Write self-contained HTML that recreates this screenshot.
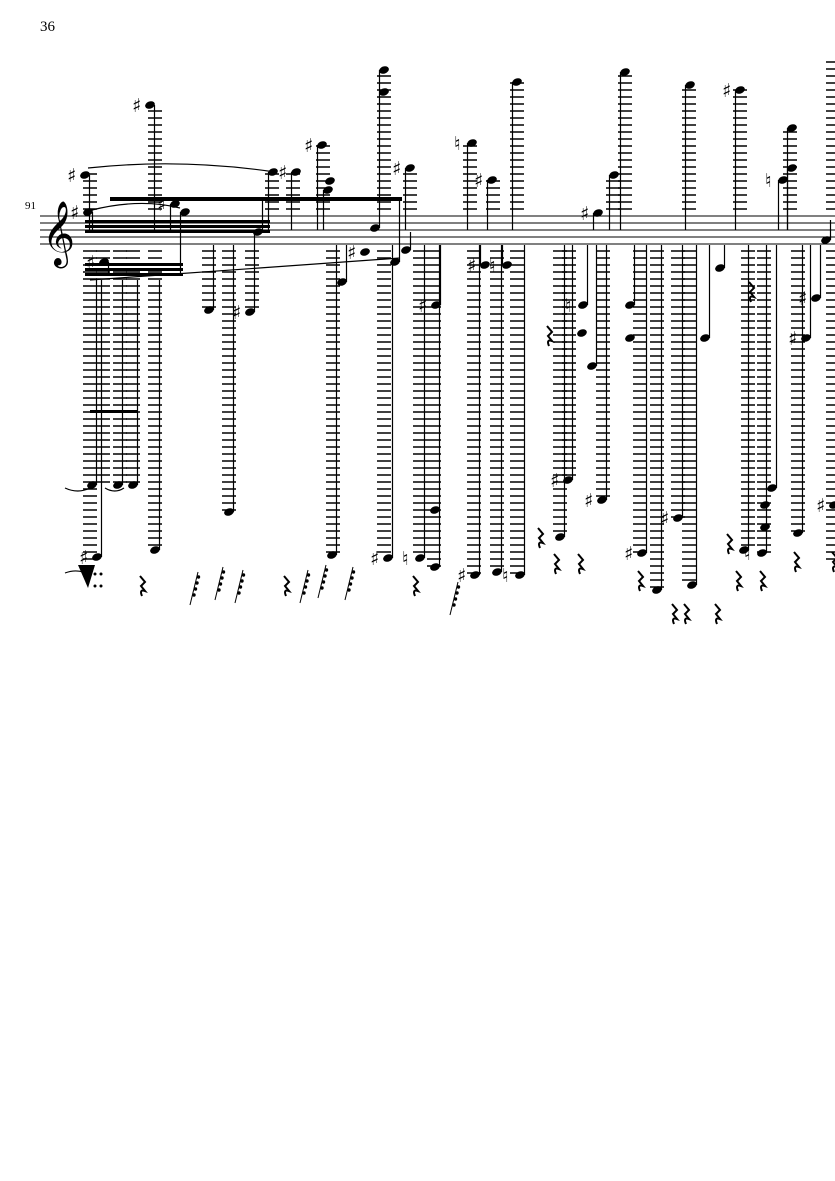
<!DOCTYPE html>
<html><head><meta charset="utf-8"><style>
html,body{margin:0;padding:0;background:#fff;}
svg{display:block;}
text{font-family:"Liberation Serif",serif;}
.a{font-family:"DejaVu Sans",sans-serif;}
</style></head><body>
<svg id="s" width="835" height="1181" xmlns="http://www.w3.org/2000/svg">
<text x="40" y="31" font-size="15">36</text>
<text x="25" y="209" font-size="11">91</text>
<g stroke="#000" stroke-width="1">
<line x1="40" y1="216" x2="835" y2="216"/><line x1="40" y1="223" x2="835" y2="223"/>
<line x1="40" y1="230" x2="835" y2="230"/><line x1="40" y1="237" x2="835" y2="237"/>
<line x1="40" y1="244" x2="835" y2="244"/>
</g>
<text x="42" y="252" font-size="56" class="a">𝄞</text>
<g fill="#000">
<rect x="110" y="197" width="292" height="4"/>
<rect x="85" y="220" width="185" height="3"/><rect x="85" y="225" width="185" height="3"/><rect x="85" y="230" width="185" height="3"/>
<rect x="85" y="263" width="98" height="3"/><rect x="85" y="268" width="98" height="3"/><rect x="85" y="273" width="98" height="3"/>
<rect x="90" y="410" width="48" height="3"/>
</g>
<g fill="none" stroke="#000" stroke-width="1.2">
<path d="M88 168 Q180 158 275 172"/><path d="M92 210 Q140 198 180 208"/>
<path d="M90 280 Q250 268 400 258"/><path d="M65 488 Q78 494 90 488"/><path d="M105 488 Q115 494 124 488"/>
<path d="M65 573 Q78 568 90 575"/>
</g>
<g id="g"></g>
</svg>
<script>
var g=document.getElementById('g'),h='';
function L(x,top,bot){
 if(top!=null){for(var y=209;y>=top;y-=7)h+='<line x1="'+(x-7)+'" y1="'+y+'" x2="'+(x+7)+'" y2="'+y+'" stroke="#000" stroke-width="1.5"/>';}
 if(bot!=null){for(var y=251;y<=bot;y+=7)h+='<line x1="'+(x-7)+'" y1="'+y+'" x2="'+(x+7)+'" y2="'+y+'" stroke="#000" stroke-width="1.5"/>';}
}
function N(x,y,st,ey,acc){h+='<ellipse cx="'+x+'" cy="'+y+'" rx="5" ry="3.6" transform="rotate(-20 '+x+' '+y+')"/>';
 if(st)h+='<line x1="'+(x+st*4.5)+'" y1="'+y+'" x2="'+(x+st*4.5)+'" y2="'+ey+'" stroke="#000" stroke-width="1.2"/>';
 if(acc)h+='<text class="a" x="'+(x-18)+'" y="'+(y+7)+'" font-size="19">'+acc+'</text>';}
function R(x,y){y-=14;h+='<path d="M'+(x+2)+' '+y+' L'+(x+7)+' '+(y+6)+' L'+(x+3)+' '+(y+10)+' L'+(x+7)+' '+(y+15)+' Q'+(x+1)+' '+(y+13)+' '+(x+4)+' '+(y+20)+'" fill="none" stroke="#000" stroke-width="2"/>';}
var cols=[[90,172,560],[103,null,485],[120,null,485],[133,null,485],[155,105,550],[209,null,310],[229,null,512],[252,null,312],[272,172,null],[293,172,null],[323,145,null],[333,null,555],[384,70,558],[410,168,null],[420,null,558],[434,null,567],[470,143,null],[474,null,575],[493,180,null],[497,null,572],[517,82,575],[560,null,537],[569,null,480],[603,null,500],[613,175,null],[625,72,null],[640,null,553],[657,null,590],[678,null,518],[689,86,585],[740,90,null],[748,null,545],[764,null,553],[790,130,null],[798,null,533],[833,60,560]];
cols.forEach(function(c){L(c[0],c[1],c[2]);});
N(85,175,1,230,'♯');N(88,212,1,230,'♯');N(104,262,1,275,'♯');N(150,105,1,230,'♯');N(175,204,-1,230,'♯');N(185,212,-1,275);
N(92,485,1,280);N(118,485,1,280);N(133,485,1,280);N(97,557,1,280,'♯');N(155,550,1,280);
N(209,310,1,245);N(229,512,1,245);N(250,312,1,230,'♯');N(258,232,1,200);N(273,172,-1,230);N(296,172,-1,230,'♯');
N(322,145,-1,230,'♯');N(328,190,-1,230);N(330,181,0);N(342,282,1,245);N(332,555,1,245);N(375,228,1,200);N(365,252,0,0,'♯');
N(384,70,-1,200);N(384,92,0);N(395,262,1,200);N(406,250,1,232);N(410,168,-1,230,'♯');N(388,558,1,245,'♯');N(420,558,1,245,'♮');N(435,567,1,245);N(435,510,0);N(436,305,1,245,'♯');
N(472,143,-1,230,'♮');N(485,265,-1,245,'♯');N(492,180,-1,230,'♯');N(475,575,1,245,'♯');N(497,572,1,245);N(507,265,-1,245,'♮');N(520,575,1,245,'♮');N(517,82,-1,230);
N(560,537,1,245);N(568,480,1,245,'♯');N(598,213,-1,230,'♯');N(583,305,1,245,'♮');N(582,333,0);N(592,366,1,245);N(602,500,1,245,'♯');N(614,175,-1,230);N(625,72,-1,230);
N(630,305,1,245);N(630,338,0);N(642,553,1,245,'♯');N(657,590,1,245);N(678,518,1,245,'♯');N(690,85,-1,230);N(705,338,1,245);N(692,585,1,245);N(720,268,1,245);N(740,90,-1,230,'♯');
N(744,550,1,245);N(762,553,1,245,'♮');N(765,505,0);N(765,527,0);N(772,488,1,245);N(783,180,-1,230,'♮');N(792,168,-1,230);N(792,128,-1,230);N(806,338,1,245,'♯');N(816,298,1,245,'♯');N(798,533,1,245);N(826,240,1,220);N(834,505,0,0,'♯');
R(138,590);R(282,590);R(411,590);R(545,340);R(536,542);R(552,568);R(576,568);R(636,585);R(670,618);R(682,618);R(713,618);R(725,548);R(734,585);R(758,585);R(747,296);R(792,566);R(830,566);
[[190,605],[215,600],[235,603],[300,603],[318,598],[345,600],[450,615]].forEach(function(p){h+='<line x1="'+p[0]+'" y1="'+p[1]+'" x2="'+(p[0]+8)+'" y2="'+(p[1]-33)+'" stroke="#000" stroke-width="1"/>';for(var i=0;i<4;i++)h+='<circle cx="'+(p[0]+4+i*1.5)+'" cy="'+(p[1]-10-i*6)+'" r="1.7"/>';});
h+='<path d="M78 565 L95 565 L88 588 Z"/><circle cx="95" cy="574" r="1.5"/><circle cx="101" cy="574" r="1.5"/><circle cx="95" cy="586" r="1.5"/><circle cx="101" cy="586" r="1.5"/>';
g.innerHTML=h;
</script>
</body></html>
